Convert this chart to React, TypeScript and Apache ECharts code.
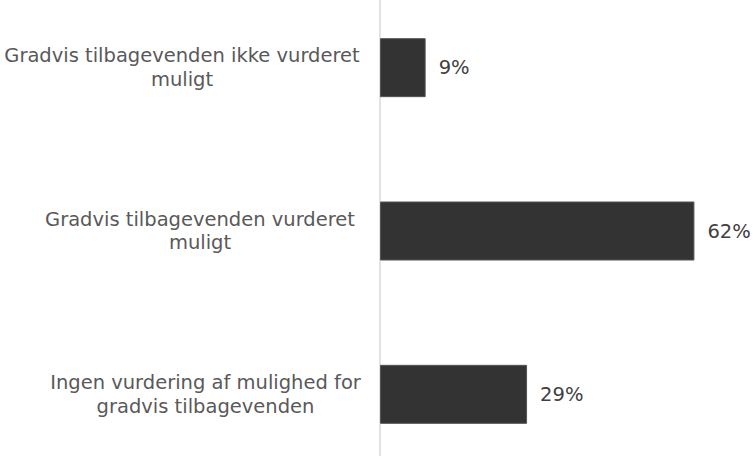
import React, { useEffect, useRef } from "react";
import * as echarts from "echarts";

const categories = [
  "Gradvis tilbagevenden ikke vurderet\nmuligt",
  "Gradvis tilbagevenden vurderet\nmuligt",
  "Ingen vurdering af mulighed for\ngradvis tilbagevenden",
];
const values = [9, 62, 29];
const labelStyleKeys = ["l0", "l1", "l2"];

export default function App() {
  const ref = useRef<HTMLDivElement>(null);
  useEffect(() => {
    if (!ref.current) return;
    const chart = echarts.init(ref.current, undefined, { renderer: "svg" });
    const base = {
      fontFamily: "DejaVu Sans",
      fontSize: 19.5,
      color: "#595959",
      lineHeight: 23.5,
    };
    chart.setOption({
      animation: false,
      backgroundColor: "#ffffff",
      grid: { left: 380, top: 0, bottom: 0, width: 355 },
      xAxis: {
        type: "value",
        min: 0,
        max: 70,
        show: false,
      },
      yAxis: {
        type: "category",
        data: categories,
        inverse: true,
        axisLine: { show: true, lineStyle: { color: "#d9d9d9", width: 1.5 } },
        axisTick: { show: false },
        axisLabel: {
          align: "center",
          margin: 180,
          ...base,
          formatter: (v: string, i: number) =>
            v
              .split("\n")
              .map((line) => `{${labelStyleKeys[i]}|${line}}`)
              .join("\n"),
          rich: {
            l0: { ...base, padding: [0, 36, 0, 0] },
            l1: { ...base, padding: [0, 0, 0, 0] },
            l2: { ...base, padding: [0, 0, 0, 11] },
          },
        },
      },
      series: [
        {
          type: "bar",
          data: values,
          barWidth: 59,
          itemStyle: { color: "#333333", borderColor: "#555555", borderWidth: 1 },
          label: {
            show: true,
            position: "right",
            distance: 13,
            formatter: "{c}%",
            fontFamily: "DejaVu Sans",
            fontSize: 19.5,
            color: "#404040",
          },
        },
      ],
    });
    return () => chart.dispose();
  }, []);
  return (
    <div
      ref={ref}
      style={{ position: "absolute", left: 0, top: -14, width: 753, height: 490 }}
    />
  );
}
